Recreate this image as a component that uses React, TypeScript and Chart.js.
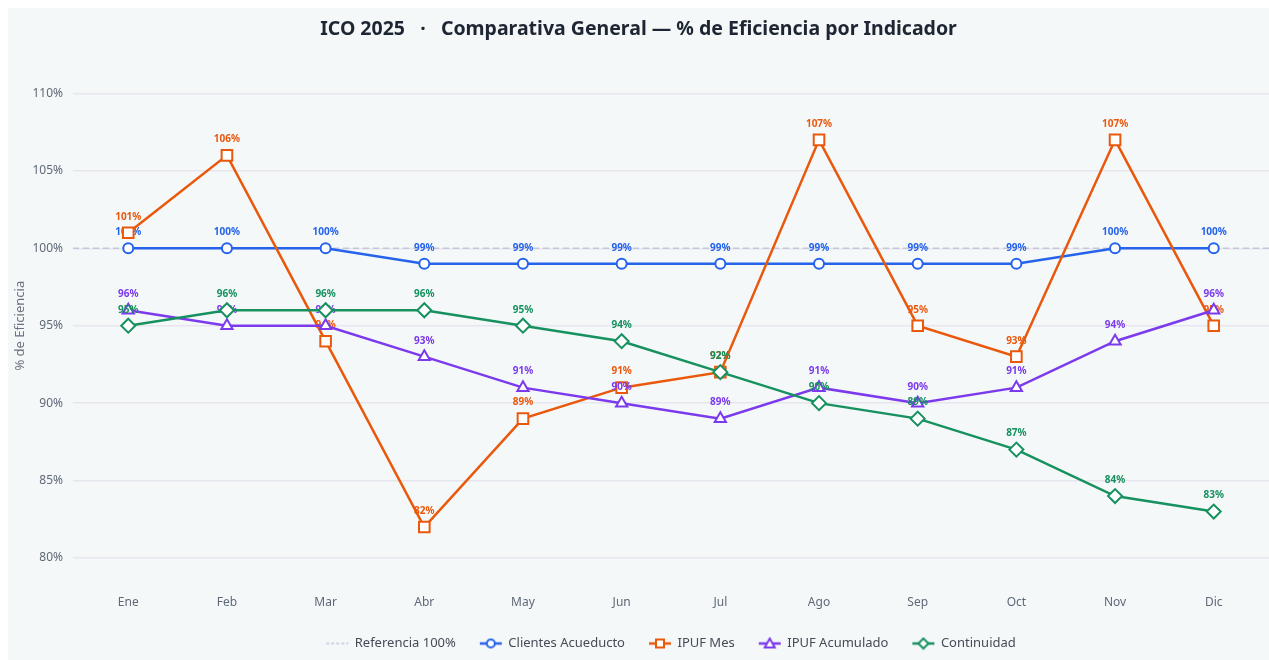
import React, { useEffect, useRef } from "react";
import { Chart, registerables } from "chart.js";

Chart.register(...registerables);

const months = ["Ene", "Feb", "Mar", "Abr", "May", "Jun", "Jul", "Ago", "Sep", "Oct", "Nov", "Dic"];
const clientesAcueducto = [100, 100, 100, 99, 99, 99, 99, 99, 99, 99, 100, 100];
const ipufMes = [101, 106, 94, 82, 89, 91, 92, 107, 95, 93, 107, 95];
const ipufAcumulado = [96, 95, 95, 93, 91, 90, 89, 91, 90, 91, 94, 96];
const continuidad = [95, 96, 96, 96, 95, 94, 92, 90, 89, 87, 84, 83];
const referencia = 100;
const yTicks = [80, 85, 90, 95, 100, 105, 110];

const X_MIN = -0.56;
const X_MAX = 11.56;
const Y_MIN = 78;
const Y_MAX = 112;

const W = 1261;
const H = 652;

const FONT = "'Noto Sans', 'Open Sans', sans-serif";
const BG = "#f4f8f9";

type SeriesDef = { label: string; values: number[]; color: string; style: string; radius: number };

const series: SeriesDef[] = [
  { label: "Clientes Acueducto", values: clientesAcueducto, color: "#2563eb", style: "circle", radius: 5 },
  { label: "IPUF Mes", values: ipufMes, color: "#ea580c", style: "rect", radius: 7.5 },
  { label: "IPUF Acumulado", values: ipufAcumulado, color: "#7c3aed", style: "triangle", radius: 6.5 },
  { label: "Continuidad", values: continuidad, color: "#16915f", style: "rectRot", radius: 7 },
];

function makeIcon(color: string, style: string | null, dashed: boolean): HTMLCanvasElement {
  const c = document.createElement("canvas");
  c.width = 24;
  c.height = 14;
  const ctx = c.getContext("2d")!;
  ctx.strokeStyle = color;
  ctx.lineWidth = dashed ? 1.5 : 2.5;
  if (dashed) ctx.setLineDash([3, 2]);
  ctx.beginPath();
  ctx.moveTo(1, 7);
  ctx.lineTo(23, 7);
  ctx.stroke();
  ctx.setLineDash([]);
  if (style) {
    ctx.lineWidth = 2;
    ctx.fillStyle = "#ffffff";
    ctx.beginPath();
    const cx = 12, cy = 7;
    if (style === "circle") {
      ctx.arc(cx, cy, 4, 0, Math.PI * 2);
    } else if (style === "rect") {
      ctx.rect(cx - 4, cy - 4, 8, 8);
    } else if (style === "triangle") {
      ctx.moveTo(cx, cy - 5);
      ctx.lineTo(cx + 5, cy + 4);
      ctx.lineTo(cx - 5, cy + 4);
      ctx.closePath();
    } else {
      ctx.moveTo(cx, cy - 5);
      ctx.lineTo(cx + 5, cy);
      ctx.lineTo(cx, cy + 5);
      ctx.lineTo(cx - 5, cy);
      ctx.closePath();
    }
    ctx.fill();
    ctx.stroke();
  }
  return c;
}

export default function App() {
  const ref = useRef<HTMLCanvasElement | null>(null);

  useEffect(() => {
    document.documentElement.style.overflow = "hidden";
    document.body.style.overflow = "hidden";
    const canvas = ref.current!;

    const bgPlugin = {
      id: "bgFill",
      beforeDraw(chart: any) {
        const { ctx, width, height } = chart;
        ctx.save();
        ctx.fillStyle = BG;
        ctx.fillRect(0, 0, width, height);
        ctx.restore();
      },
    };

    const labelPlugin = {
      id: "pointLabels",
      afterDatasetDraw(chart: any, args: any) {
        const ds = chart.data.datasets[args.index];
        if (!ds.showLabels) return;
        const meta = args.meta;
        if (meta.hidden) return;
        const ctx = chart.ctx;
        ctx.save();
        ctx.font = `bold 10px ${FONT}`;
        ctx.fillStyle = ds.borderColor;
        ctx.textAlign = "center";
        ctx.textBaseline = "middle";
        meta.data.forEach((pt: any, i: number) => {
          const v = ds.data[i].y;
          ctx.fillText(`${Math.round(v)}%`, pt.x, pt.y - 16);
        });
        ctx.restore();
      },
    };

    const datasets: any[] = [
      {
        label: "Referencia 100%",
        data: [
          { x: X_MIN, y: referencia },
          { x: X_MAX, y: referencia },
        ],
        borderColor: "#c5c6da",
        borderWidth: 1.5,
        borderDash: [6, 4],
        pointRadius: 0,
        pointHoverRadius: 0,
        order: 10,
        icon: makeIcon("#c5c6da", null, true),
      },
      ...series.map((s, k) => ({
        label: s.label,
        data: s.values.map((v, i) => ({ x: i, y: v })),
        borderColor: s.color,
        backgroundColor: "#ffffff",
        borderWidth: 2.5,
        pointStyle: s.style,
        pointRadius: s.radius,
        pointHoverRadius: s.radius,
        pointBorderWidth: 2,
        pointBackgroundColor: "#ffffff",
        pointBorderColor: s.color,
        tension: 0,
        order: 5 - k,
        showLabels: true,
        icon: makeIcon(s.color, s.style, false),
      })),
    ];

    const chart = new Chart(canvas, {
      type: "line",
      data: { datasets },
      options: {
        responsive: false,
        maintainAspectRatio: false,
        animation: false,
        layout: { autoPadding: false, padding: { left: 0, right: 0, top: 0, bottom: 0 } },
        scales: {
          x: {
            type: "linear",
            min: X_MIN,
            max: X_MAX,
            grid: { display: false, drawTicks: false },
            border: { display: false },
            afterBuildTicks(scale: any) {
              scale.ticks = months.map((_, i) => ({ value: i }));
            },
            afterFit(scale: any) {
              scale.height = 24;
              scale.paddingLeft = 0;
              scale.paddingRight = 0;
            },
            ticks: {
              padding: 6,
              color: "#5f6877",
              font: { family: FONT, size: 12 },
              callback: (v: any) => months[Math.round(Number(v))] ?? "",
            },
          },
          y: {
            type: "linear",
            min: Y_MIN,
            max: Y_MAX,
            grid: { color: "#e7e6ef", lineWidth: 1.5, drawTicks: false },
            border: { display: false },
            afterBuildTicks(scale: any) {
              scale.ticks = yTicks.map((v) => ({ value: v }));
            },
            afterFit(scale: any) {
              scale.width = 65;
            },
            ticks: {
              padding: 10,
              color: "#5f6877",
              font: { family: FONT, size: 12 },
              callback: (v: any) => `${v}%`,
            },
            title: {
              display: true,
              text: "% de Eficiencia",
              color: "#6b7280",
              font: { family: FONT, size: 13 },
              padding: { top: 4, bottom: 0 },
            },
          },
        },
        plugins: {
          title: {
            display: true,
            text: "ICO 2025   ·   Comparativa General — % de Eficiencia por Indicador",
            color: "#1f2633",
            font: { family: FONT, size: 19.5, weight: "bold" },
            padding: { top: 10, bottom: 21 },
          },
          legend: {
            position: "bottom",
            fullSize: false,
            labels: {
              usePointStyle: true,
              pointStyleWidth: 22,
              padding: 24,
              color: "#454b57",
              font: { family: FONT, size: 13 },
              generateLabels(ch: any) {
                const base = Chart.defaults.plugins.legend.labels.generateLabels(ch);
                return base
                  .slice()
                  .sort((a: any, b: any) => a.datasetIndex - b.datasetIndex)
                  .map((item: any) => ({
                    ...item,
                    pointStyle: ch.data.datasets[item.datasetIndex].icon,
                  }));
              },
            },
          },
          tooltip: { enabled: false },
        },
      } as any,
      plugins: [bgPlugin, labelPlugin],
    });

    return () => chart.destroy();
  }, []);

  return (
    <div style={{ position: "fixed", left: 8, top: 8, width: W, height: H }}>
      <canvas ref={ref} width={W} height={H} style={{ display: "block", width: W, height: H }} />
    </div>
  );
}
